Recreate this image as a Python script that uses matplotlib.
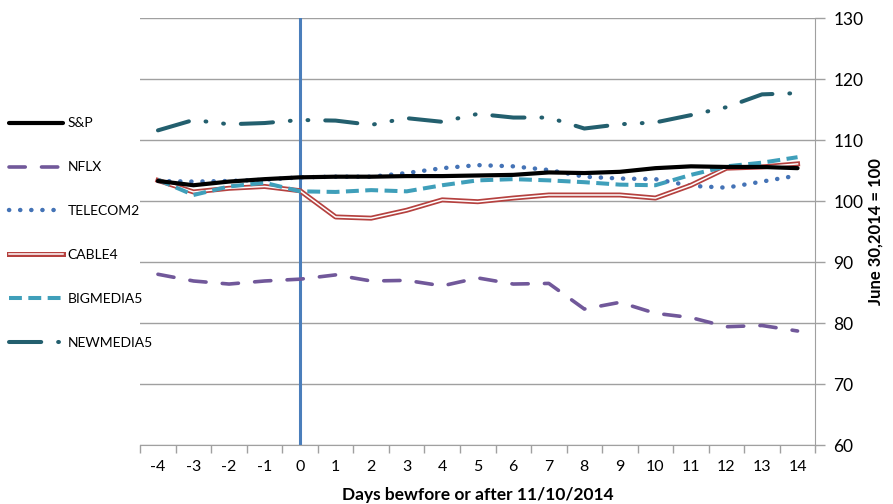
import matplotlib.pyplot as plt
import matplotlib.patheffects as pe

plt.rcParams['font.family'] = ['Lato', 'DejaVu Sans']
plt.rcParams['axes.unicode_minus'] = False

days = list(range(-4, 15))

sp = [103.3, 102.6, 103.2, 103.6, 103.9, 104.0, 104.0, 104.1, 104.1, 104.2,
      104.3, 104.7, 104.6, 104.8, 105.4, 105.7, 105.6, 105.6, 105.4]
nflx = [88.0, 86.9, 86.4, 86.9, 87.2, 87.9, 86.9, 87.0, 86.1, 87.4,
        86.4, 86.5, 82.3, 83.4, 81.6, 80.9, 79.4, 79.6, 78.7]
telecom2 = [103.3, 103.2, 103.3, 103.5, 103.9, 104.0, 104.0, 104.6, 105.4, 105.9,
            105.7, 105.1, 104.0, 103.7, 103.6, 102.5, 102.2, 103.2, 104.2]
cable4 = [103.4, 101.5, 102.1, 102.4, 101.7, 97.4, 97.2, 98.5, 100.2, 99.9,
          100.5, 101.0, 101.0, 101.0, 100.5, 102.6, 105.4, 105.6, 106.1]
bigmedia5 = [103.5, 101.0, 102.4, 103.0, 101.6, 101.5, 101.8, 101.6, 102.6, 103.4,
             103.6, 103.4, 103.1, 102.7, 102.6, 104.3, 105.7, 106.3, 107.2]
newmedia5 = [111.6, 113.3, 112.6, 112.8, 113.3, 113.2, 112.5, 113.6, 113.0, 114.3,
             113.7, 113.7, 111.9, 112.6, 112.9, 114.1, 115.4, 117.5, 117.7]

fig = plt.figure(figsize=(8.93, 5.04), dpi=100)
ax = fig.add_axes([0.157, 0.117, 0.756, 0.847])

# event day marker
ax.axvline(0, color='#4a7ebb', lw=2.2, zorder=2)

ax.plot(days, sp, color='black', lw=3, solid_capstyle='round', label='S&P', zorder=5)
ax.plot(days, nflx, color='#71589a', lw=2.6, linestyle=(0, (4.5, 4.5)),
        dash_capstyle='round', label='NFLX', zorder=4)
ax.plot(days, telecom2, color='#4473b6', lw=3.2, linestyle=(0, (0.05, 2.45)),
        dash_capstyle='round', label='TELECOM2', zorder=4)
ax.plot(days, cable4, color='white', lw=1.1, label='CABLE4', zorder=4,
        path_effects=[pe.Stroke(linewidth=3.6, foreground='#b5413f'), pe.Normal()])
ax.plot(days, bigmedia5, color='#3f9fba', lw=2.9, linestyle=(0, (3.2, 1.6)),
        dash_capstyle='butt', label='BIGMEDIA5', zorder=4)
ax.plot(days, newmedia5, color='#235f6e', lw=2.9,
        linestyle=(0, (8, 4.2, 0.2, 4.2, 0.2, 4.2)),
        dash_capstyle='round', label='NEWMEDIA5', zorder=4)

ax.set_xlim(-4.5, 14.5)
ax.set_ylim(60, 130)
ax.set_yticks(range(60, 131, 10))
ax.yaxis.tick_right()
ax.yaxis.set_label_position('right')
ax.set_xticks(days)
ax.set_xticks([d + 0.5 for d in range(-5, 15)], minor=True)
ax.tick_params(axis='x', which='major', length=0, labelsize=11.5, pad=11, colors='black')
ax.tick_params(axis='x', which='minor', length=6, color='#a0a0a0', width=1)
ax.tick_params(axis='y', length=7, color='#a0a0a0', width=1, labelsize=12.5, pad=6)
ax.grid(axis='y', color='#a0a0a0', lw=1)
ax.set_axisbelow(True)

for s in ['top', 'left']:
    ax.spines[s].set_visible(False)
for s in ['right', 'bottom']:
    ax.spines[s].set_color('#a0a0a0')

ax.set_xlabel('Days bewfore or after 11/10/2014', fontsize=12.5, fontweight='bold', labelpad=9)
ax.set_ylabel('June 30,2014 = 100', fontsize=12, fontweight='bold', labelpad=3)

handles, labels = ax.get_legend_handles_labels()
fig.legend(handles, labels, loc='upper left', bbox_to_anchor=(0.004, 0.778),
           frameon=False, fontsize=10, handlelength=3.9, handletextpad=0.3,
           labelspacing=2.3, borderaxespad=0)

fig.savefig('out.png', dpi=100)
